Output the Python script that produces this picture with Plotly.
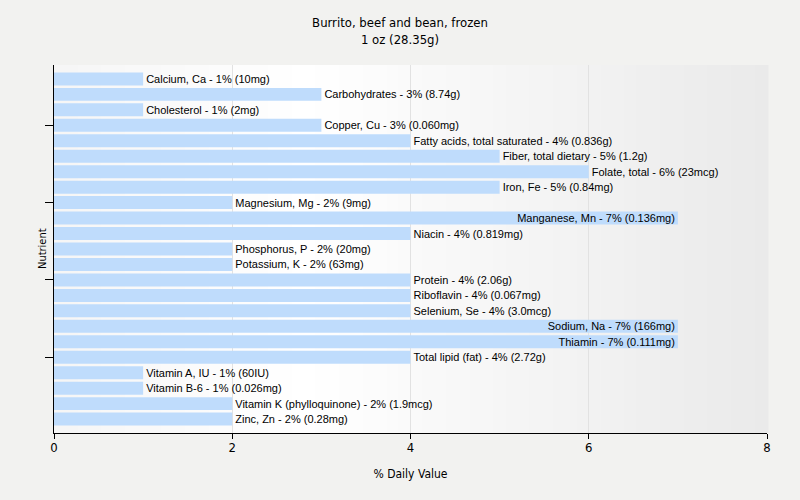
import plotly.graph_objects as go

nutrients = [
    "Calcium, Ca", "Carbohydrates", "Cholesterol", "Copper, Cu",
    "Fatty acids, total saturated", "Fiber, total dietary", "Folate, total",
    "Iron, Fe", "Magnesium, Mg", "Manganese, Mn", "Niacin", "Phosphorus, P",
    "Potassium, K", "Protein", "Riboflavin", "Selenium, Se", "Sodium, Na",
    "Thiamin", "Total lipid (fat)", "Vitamin A, IU", "Vitamin B-6",
    "Vitamin K (phylloquinone)", "Zinc, Zn",
]
dv_percent = [1, 3, 1, 3, 4, 5, 6, 5, 2, 7, 4, 2, 2, 4, 4, 4, 7, 7, 4, 1, 1, 2, 2]
amounts = [
    "10mg", "8.74g", "2mg", "0.060mg", "0.836g", "1.2g", "23mcg", "0.84mg",
    "9mg", "0.136mg", "0.819mg", "20mg", "63mg", "2.06g", "0.067mg", "3.0mcg",
    "166mg", "0.111mg", "2.72g", "60IU", "0.026mg", "1.9mcg", "0.28mg",
]

labels = [f"{n} - {v}% ({a})" for n, v, a in zip(nutrients, dv_percent, amounts)]
positions = ["inside" if v >= 7 else "outside" for v in dv_percent]
idx = list(range(len(nutrients)))

LABEL_FONT = "Liberation Sans, Arial, sans-serif"
AXIS_FONT = "DejaVu Sans Condensed, Liberation Sans, sans-serif"

fig = go.Figure()

# gradient plot background (decorative)
n_steps = 60
for i in range(n_steps):
    f = i / (n_steps - 1)
    if f < 0.35:
        t = f / 0.35
        c = 246 + (255 - 246) * t
    else:
        t = (f - 0.35) / 0.65
        c = 255 - (255 - 234) * t
    c = int(round(c))
    fig.add_shape(type="rect", xref="paper", yref="paper",
                  x0=i / n_steps, x1=(i + 1) / n_steps + 0.002, y0=0, y1=1,
                  fillcolor=f"rgb({c},{c},{c})", line_width=0, layer="below")

fig.add_trace(go.Bar(
    x=dv_percent, y=idx, orientation="h",
    marker=dict(color="#bfdcfc", line_width=0),
    width=0.84,
    text=labels, textposition=positions,
    insidetextanchor="end",
    textfont=dict(family=LABEL_FONT, size=11, color="#000000"),
    insidetextfont=dict(family=LABEL_FONT, size=11, color="#000000"),
    outsidetextfont=dict(family=LABEL_FONT, size=11, color="#000000"),
    cliponaxis=False,
    hoverinfo="text",
))

fig.add_annotation(
    text="Nutrient", textangle=-90, showarrow=False,
    xref="paper", yref="paper", x=-12 / 713, xanchor="center", y=0.5, yanchor="middle",
    font=dict(family=AXIS_FONT, size=11, color="#000"),
)

fig.update_layout(
    width=800, height=500,
    paper_bgcolor="#f2f2f0",
    plot_bgcolor="rgba(0,0,0,0)",
    margin=dict(l=54, r=33, t=65, b=67),
    title=dict(text="Burrito, beef and bean, frozen<br>1 oz (28.35g)",
               x=0.5, xanchor="center", y=0.946, yanchor="top",
               font=dict(family=AXIS_FONT, size=13, color="#000")),
    showlegend=False,
    bargap=0.1,
    uniformtext=dict(mode="show", minsize=11),
)
fig.update_xaxes(
    range=[0, 8], tickvals=[0, 2, 4, 6, 8],
    automargin=False,
    showgrid=True, gridcolor="#e2e2e2", gridwidth=1,
    showline=True, linecolor="#000", linewidth=1,
    ticks="outside", ticklen=5, tickcolor="#000",
    ticklabelstandoff=-3,
    zeroline=False,
    tickfont=dict(family=AXIS_FONT, size=13, color="#000"),
    title=dict(text="% Daily Value", standoff=16,
               font=dict(family=AXIS_FONT, size=12, color="#000")),
)
fig.update_yaxes(
    range=[22.9, -0.9],
    automargin=False,
    tickvals=[3, 8, 13, 18], ticktext=["", "", "", ""],
    showgrid=False,
    showline=True, linecolor="#000", linewidth=1,
    ticks="outside", ticklen=8, tickcolor="#000",
    zeroline=False,
)

fig.write_html(
    "out.html",
    config={"displayModeBar": False},
    post_script="document.body.style.margin='0';document.body.style.background='#f2f2f0';",
)
